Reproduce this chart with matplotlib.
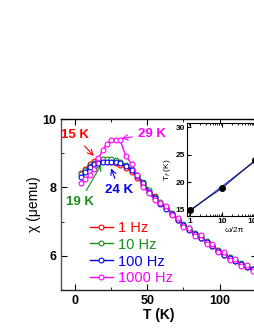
import numpy as np
import matplotlib.pyplot as plt
from matplotlib.ticker import MultipleLocator

plt.rcParams['font.family'] = ['Liberation Sans', 'DejaVu Sans']

# temperatura (K)
T = [4, 7, 10, 13, 16, 19, 22, 25, 28, 31, 35, 39, 43, 47, 51, 55, 59,
     63, 67, 71, 75, 79, 83, 87, 91, 95, 99, 103, 107, 111, 115, 119, 123]

chi_1hz = [8.42, 8.55, 8.68, 8.78, 8.84, 8.80, 8.77, 8.74, 8.70, 8.66, 8.58,
           8.46, 8.28, 8.08, 7.86, 7.74, 7.54, 7.40, 7.23, 7.06, 6.91, 6.77,
           6.64, 6.53, 6.41, 6.29, 6.15, 6.03, 5.94, 5.85, 5.76, 5.68, 5.61]
chi_10hz = [8.38, 8.50, 8.62, 8.70, 8.76, 8.82, 8.84, 8.82, 8.80, 8.74, 8.66,
            8.53, 8.36, 8.16, 7.93, 7.73, 7.56, 7.42, 7.26, 7.09, 6.94, 6.80,
            6.67, 6.55, 6.43, 6.31, 6.18, 6.06, 5.96, 5.87, 5.78, 5.70, 5.62]
chi_100hz = [8.30, 8.45, 8.60, 8.69, 8.72, 8.74, 8.75, 8.75, 8.74, 8.70, 8.63,
             8.50, 8.32, 8.12, 7.88, 7.68, 7.52, 7.38, 7.22, 7.05, 6.90, 6.76,
             6.63, 6.52, 6.40, 6.28, 6.14, 6.02, 5.93, 5.84, 5.75, 5.67, 5.60]
chi_1000hz = [8.12, 8.25, 8.36, 8.55, 8.85, 9.10, 9.28, 9.38, 9.40, 9.38, 8.92,
              8.68, 8.35, 8.02, 7.83, 7.64, 7.55, 7.45, 7.18, 7.10, 6.85, 6.80,
              6.58, 6.62, 6.35, 6.34, 6.10, 6.12, 5.88, 5.90, 5.70, 5.72, 5.55]

# inset: T_f vs frequencia
freq = [1, 10, 100]
Tf = [15, 19, 24]

series = [
    (chi_1hz, 'red', '1 Hz'),
    (chi_10hz, '#1a8f1a', '10 Hz'),
    (chi_100hz, '#0000ee', '100 Hz'),
    (chi_1000hz, 'magenta', '1000 Hz'),
]

fig = plt.figure(figsize=(2.55, 3.3), dpi=100)
ax = fig.add_axes([61/255, 40/330, 196/255, 171/330])

for y, c, lab in series:
    ax.plot(T, y, '-o', color=c, mfc='white', mec=c, ms=3.5, lw=1.0,
            mew=0.8, label=lab)

ax.set_xlim(-10, 126)
ax.set_ylim(5, 10)
ax.xaxis.set_major_locator(MultipleLocator(50))
ax.xaxis.set_minor_locator(MultipleLocator(25))
ax.yaxis.set_major_locator(MultipleLocator(2))
ax.yaxis.set_minor_locator(MultipleLocator(1))
ax.tick_params(which='both', direction='in', top=True, right=True)
ax.tick_params(which='major', length=4, labelsize=9)
ax.tick_params(which='minor', length=2.5)
for lbl in ax.get_xticklabels() + ax.get_yticklabels():
    lbl.set_fontweight('bold')
for s in ax.spines.values():
    s.set_linewidth(1.0)
ax.spines['left'].set_color('#555555')
ax.spines['bottom'].set_color('#222222')
ax.set_xlabel('T (K)', fontsize=10, fontweight='bold', labelpad=1)
ax.set_ylabel('χ (μemu)', fontsize=10, labelpad=1)

leg = ax.legend(loc='lower left', bbox_to_anchor=(0.08, -0.05), frameon=False,
                fontsize=10.5, handlelength=1.6, handletextpad=0.3,
                labelspacing=0.2, labelcolor='linecolor')

# anotacoes dos picos
ann = dict(fontsize=9.5, fontweight='bold', ha='center', va='center')
ax.annotate('15 K', xy=(14, 8.86), xytext=(-0.5, 9.53), color='red',
            arrowprops=dict(arrowstyle='->', color='red', lw=0.8), **ann)
ax.annotate('29 K', xy=(30, 9.42), xytext=(53, 9.56), color='magenta',
            arrowprops=dict(arrowstyle='->', color='magenta', lw=0.8), **ann)
ax.annotate('19 K', xy=(19, 8.74), xytext=(3, 7.58), color='#1a8f1a',
            arrowprops=dict(arrowstyle='->', color='#1a8f1a', lw=0.8), **ann)
ax.annotate('24 K', xy=(24, 8.63), xytext=(30.5, 7.93), color='#0000ee',
            arrowprops=dict(arrowstyle='->', color='#0000ee', lw=0.8), **ann)

# inset
axi = fig.add_axes([187/255, 114/330, 76/255, 93/330])
coef = np.polyfit(np.log10(freq), Tf, 1)
fit = np.polyval(coef, np.log10(freq))
axi.plot(freq, fit, color='#3050ff', lw=1.0)
axi.plot(freq, Tf, '-o', color='black', ms=4, lw=0.6)
axi.set_xscale('log')
axi.set_xlim(0.8, 180)
axi.set_ylim(13.9, 30.8)
axi.yaxis.set_major_locator(MultipleLocator(5))
axi.set_xticks([1, 10, 100])
axi.set_xticklabels(['1', '10', '100'])
axi.tick_params(which='both', direction='in', top=True, right=True,
                labelsize=6, pad=1.5)
axi.tick_params(which='major', length=3)
axi.tick_params(which='minor', length=1.5)
for lbl in axi.get_xticklabels() + axi.get_yticklabels():
    lbl.set_fontweight('bold')
axi.set_xlabel('ω/2π', fontsize=6, labelpad=0)
axi.set_ylabel('T$_f$ (K)', fontsize=6, labelpad=2)
axi.xaxis.set_label_coords(0.62, -0.12)

fig.savefig('out.png', dpi=100)
